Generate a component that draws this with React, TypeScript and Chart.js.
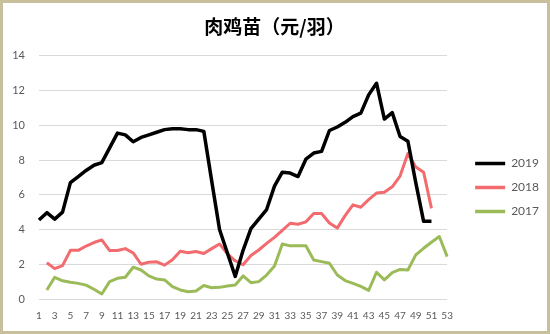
import React, { useEffect, useRef } from "react";
import { Chart, registerables } from "chart.js";

Chart.register(...registerables);

const weeks: string[] = Array.from({ length: 53 }, (_, i) => String(i + 1));

const series2019: (number | null)[] = [
  4.55, 4.97, 4.6, 5.0, 6.7, 7.05, 7.4, 7.7, 7.85, 8.7,
  9.55, 9.45, 9.05, 9.3, 9.45, 9.6, 9.75, 9.8, 9.8, 9.75,
  9.75, 9.65, 6.8, 4.0, 2.65, 1.3, 2.8, 4.05, 4.6, 5.15,
  6.5, 7.3, 7.25, 7.05, 8.05, 8.4, 8.5, 9.7, 9.9, 10.17,
  10.5, 10.7, 11.75, 12.42, 10.36, 10.73, 9.35, 9.08, 6.7, 4.47,
  4.47, null, null,
];

const series2018: (number | null)[] = [
  null, 2.09, 1.75, 1.92, 2.8, 2.8, 3.05, 3.25, 3.4, 2.79,
  2.79, 2.9, 2.65, 2.0, 2.12, 2.14, 1.95, 2.26, 2.75, 2.66,
  2.73, 2.62, 2.9, 3.17, 2.6, 2.2, 1.97, 2.5, 2.82, 3.2,
  3.55, 3.95, 4.36, 4.3, 4.44, 4.92, 4.92, 4.38, 4.08, 4.8,
  5.42, 5.28, 5.72, 6.1, 6.15, 6.46, 7.08, 8.38, 7.6, 7.3,
  5.22, null, null,
];

const series2017: (number | null)[] = [
  null, 0.52, 1.25, 1.05, 0.96, 0.9, 0.8, 0.56, 0.29, 1.0,
  1.19, 1.25, 1.83, 1.67, 1.33, 1.15, 1.1, 0.71, 0.52, 0.42,
  0.46, 0.78, 0.65, 0.67, 0.75, 0.81, 1.33, 0.94, 1.0, 1.38,
  1.9, 3.17, 3.06, 3.06, 3.06, 2.25, 2.15, 2.06, 1.38, 1.06,
  0.9, 0.73, 0.5, 1.54, 1.1, 1.52, 1.7, 1.67, 2.54, 2.92,
  3.27, 3.6, 2.44,
];

const seriesNames = ["2019", "2018", "2017"];
const seriesColors = ["#000000", "#f26b6f", "#9bbb59"];
const titleText = "肉鸡苗（元/羽）";

export default function App() {
  const canvasRef = useRef<HTMLCanvasElement | null>(null);

  useEffect(() => {
    document.body.style.margin = "0";
    const canvas = canvasRef.current;
    if (!canvas) return;
    const values = [series2019, series2018, series2017];
    const chart = new Chart(canvas, {
      type: "line",
      data: {
        labels: weeks,
        datasets: values.map((d, i) => ({
          label: seriesNames[i],
          data: d,
          borderColor: seriesColors[i],
          backgroundColor: seriesColors[i],
          borderWidth: i === 0 ? 3.5 : 3,
          pointRadius: 0,
          tension: 0,
          borderJoinStyle: "round" as const,
          fill: false,
        })),
      },
      options: {
        animation: false,
        responsive: false,
        maintainAspectRatio: false,
        layout: { padding: { left: 0, right: 1, top: 0, bottom: 1 } },
        plugins: {
          title: {
            display: true,
            text: titleText,
            color: "#000000",
            font: { family: "'Noto Sans CJK SC'", size: 19, weight: "bold" },
            padding: { top: 15, bottom: 18 },
          },
          legend: {
            position: "right",
            title: { display: true, text: "", font: { size: 10 }, padding: { top: 0, bottom: 30 } },
            labels: {
              boxWidth: 30,
              boxHeight: 3.5,
              padding: 12,
              color: "#595959",
              font: { family: "Lato", size: 12 },
              generateLabels: (c: any) =>
                c.data.datasets.map((ds: any, i: number) => ({
                  text: ds.label,
                  fillStyle: ds.borderColor,
                  strokeStyle: ds.borderColor,
                  lineWidth: 0,
                  hidden: false,
                  datasetIndex: i,
                  fontColor: "#595959",
                })),
            },
          },
          tooltip: { enabled: false },
        },
        scales: {
          x: {
            offset: false,
            grid: { display: false, drawTicks: false },
            border: { display: false },
            ticks: {
              autoSkip: false,
              maxRotation: 0,
              minRotation: 0,
              padding: 11,
              color: "#595959",
              font: { family: "Lato", size: 10 },
              callback: (_v: any, i: number) => (i % 2 === 0 ? weeks[i] : ""),
            },
          },
          y: {
            min: 0,
            max: 14,
            afterFit: (s: any) => {
              s.width = 39;
            },
            grid: { color: "#d9d9d9", lineWidth: 1, drawTicks: false },
            border: { display: false },
            ticks: {
              stepSize: 2,
              padding: 14,
              color: "#595959",
              font: { family: "Lato", size: 11 },
            },
          },
          yRight: {
            position: "right",
            min: 0,
            max: 14,
            afterFit: (s: any) => {
              s.width = 16;
            },
            grid: { display: false, drawTicks: false },
            border: { display: false },
            ticks: { display: false },
          },
        },
      },
    });
    return () => chart.destroy();
  }, []);

  return (
    <div style={{ position: "relative", width: 550, height: 334, background: "#ffffff" }}>
      <canvas ref={canvasRef} width={550} height={334} style={{ position: "absolute", left: 0, top: 0, width: 550, height: 334 }} />
      <div
        style={{
          position: "absolute",
          left: 0,
          top: 0,
          width: 550,
          height: 334,
          boxSizing: "border-box",
          border: "3px solid #c8bf9c",
          pointerEvents: "none",
        }}
      />
    </div>
  );
}
